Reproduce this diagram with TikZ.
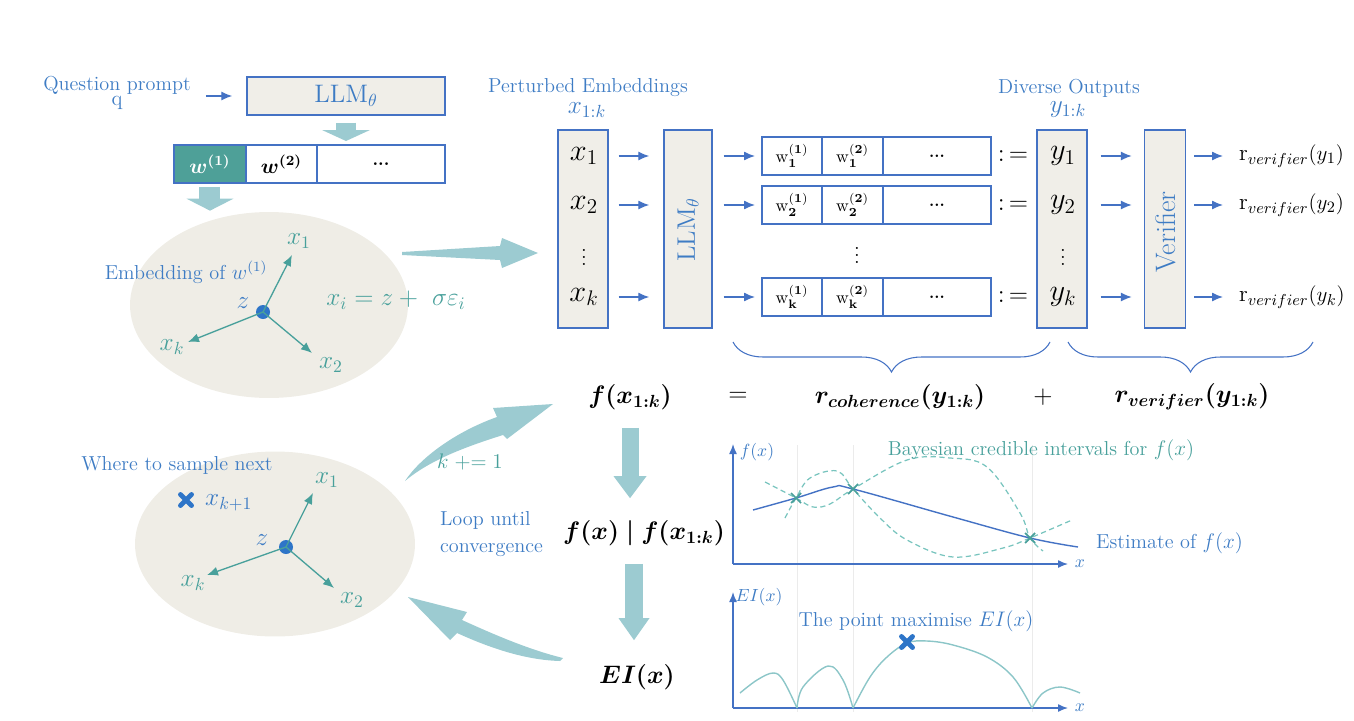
\documentclass[tikz,border=0pt]{standalone}
\usepackage{amsmath}
\usepackage{bm}
\usetikzlibrary{arrows.meta,calc,shapes.geometric,decorations.pathreplacing}

\definecolor{txtblue}{RGB}{62,124,196}
\definecolor{boxblue}{RGB}{68,114,196}
\definecolor{tealtxt}{RGB}{72,160,155}
\definecolor{wteal}{RGB}{78,160,152}
\definecolor{beige}{RGB}{240,238,232}
\definecolor{ellfill}{RGB}{239,237,230}
\definecolor{arrowteal}{RGB}{156,203,209}
\definecolor{dotblue}{RGB}{46,117,200}
\definecolor{dashteal}{RGB}{120,196,190}
\definecolor{eiteal}{RGB}{140,198,200}
\newcommand\lblsize{\fontsize{11.5}{15}\selectfont}

\tikzset{
	bluelbl/.style={text=txtblue, font=\lblsize, inner sep=1pt},
	teallbl/.style={text=tealtxt, font=\Large, inner sep=1pt},
	panel/.style={draw=boxblue, fill=beige, line width=0.8pt, inner sep=0pt},
	cell/.style={draw=boxblue, fill=white, line width=0.8pt, inner sep=0pt, outer sep=0pt, minimum height=0.76cm, anchor=west},
	flowarrow/.style={draw=boxblue, line width=0.75pt, -{Latex[length=2.2mm,width=1.8mm]}},
	spoke/.style={draw=tealtxt, line width=0.75pt, -{Latex[length=2.2mm,width=1.8mm]}},
	plotaxis/.style={draw=boxblue, line width=0.8pt, -{Latex[length=2mm,width=1.6mm]}},
	blockdown/.style n args={3}{draw=arrowteal, line width=#1, -{Triangle[width=#2,length=#3,line width=0pt]}},
	sumbrace/.style={draw=boxblue, line width=0.6pt, decorate, decoration={brace,mirror,amplitude=0.6cm}},
	estline/.style={draw=boxblue, line width=0.8pt},
	bandline/.style={draw=dashteal, line width=0.7pt, dash pattern=on 3pt off 2pt},
	eiline/.style={draw=eiteal, line width=0.8pt},
	bigcross/.pic={\draw[draw=dotblue, line width=2.8pt, line cap=round] (-5.5,-5.5) -- (5.5,5.5) (-5.5,5.5) -- (5.5,-5.5);},
	smallcross/.pic={\draw[draw=tealtxt, line width=1pt] (-5,-5) -- (5,5) (-5,5) -- (5,-5);}
}

\begin{document}
\begin{tikzpicture}[x=0.02cm, y=-0.02cm]
	\useasboundingbox (0,0) rectangle (1354,720);
	%%%%% START %%%%%
	
	%%%%% prompt and tokens %%%%%
	\node[bluelbl] (qprompt) at (117,85) {Question prompt};
	\node[bluelbl, font=\large] (qsym) at (117,103) {q};
	\node[panel, minimum width=3.96cm, minimum height=0.76cm, text=txtblue, font=\Large] (llmtop) at (346,96) {LLM$_\theta$};
	\draw[flowarrow] ([xshift=0.26cm]qprompt.east |- llmtop) -- ([xshift=-0.28cm]llmtop.west);
	
	\node[cell, fill=wteal, minimum width=1.44cm, text=white, font=\large] (wone) at (174,164) {$\bm{w^{(1)}}$};
	\node[cell, minimum width=1.42cm, font=\large] (wtwo) at (wone.east) {$\bm{w^{(2)}}$};
	\node[cell, minimum width=2.56cm] (wdots) at (wtwo.east) {\bfseries ...};
	\draw[blockdown={0.4cm}{0.96cm}{0.22cm}, shorten <=0.14cm, shorten >=0.08cm] (llmtop.south) -- (llmtop.south |- wdots.north);
	
	%%%%% embedding space %%%%%
	\node[ellipse, fill=ellfill, inner sep=0pt, minimum width=5.56cm, minimum height=3.72cm] (embspace) at (269,305) {};
	\draw[blockdown={0.42cm}{0.94cm}{0.24cm}, shorten <=0.08cm, shorten >=0.02cm] (wone.south) -- (wone.south |- embspace.north);
	
	\node[bluelbl] (embtxt) at (186,272) {Embedding of $w^{(1)}$};
	\node[circle, fill=dotblue, inner sep=0pt, minimum size=0.28cm] (zdot) at (263,312) {};
	\node[text=txtblue, font=\Large] (zlbl) at (243,303) {$z$};
	\coordinate (sone) at (292,255);
	\coordinate (stwo) at (312,353);
	\coordinate (sk) at (188,342);
	\draw[spoke] (zdot.center) -- (sone);
	\draw[spoke] (zdot.center) -- (stwo);
	\draw[spoke] (zdot.center) -- (sk);
	\node[teallbl] (sonelbl) at (299,241) {$x_1$};
	\node[teallbl] (stwolbl) at (331,365) {$x_2$};
	\node[teallbl] (sklbl) at (172,347) {$x_k$};
	\node[teallbl] (eqn) at (396,300) {$x_i = z +\ \sigma\varepsilon_i$};
	
	% tapered arrow into the perturbed embeddings
	\fill[arrowteal] (402,252) -- (500,246) -- (502,238) -- (538,253) -- (502,268) -- (500,260) -- (402,255) -- cycle;
	
	%%%%% perturbed embeddings -> outputs %%%%%
	\node[bluelbl] (pertitle) at (588,88) {Perturbed Embeddings};
	\node[text=txtblue, font=\Large] (xrange) at (587,110) {$x_{1:k}$};
	\node[panel, minimum width=1.0cm, minimum height=3.96cm] (xcol) at (583,229) {};
	\node[panel, minimum width=0.96cm, minimum height=3.96cm] (llmside) at (688,229) {};
	\node[rotate=90, text=txtblue, font=\Large] (llmsidetxt) at (688,230) {LLM$_\theta$};
	
	\node[bluelbl] (divtitle) at (1069,88) {Diverse Outputs};
	\node[text=txtblue, font=\Large] (yrange) at (1068,110) {$y_{1:k}$};
	\node[panel, minimum width=1.0cm, minimum height=3.96cm] (ycol) at (1062,229) {};
	\node[panel, minimum width=0.82cm, minimum height=3.96cm] (verif) at (1165,229) {};
	\node[rotate=90, text=txtblue, font=\fontsize{16}{18}\selectfont] (veriftxt) at (1166,232) {Verifier};
	
	\foreach \yy/\i in {156/1,205/2,297/k} {
		\node[font=\LARGE, inner sep=1pt] (xe\i) at (584,\yy) {$x_\i$};
		\node[font=\LARGE, inner sep=1pt] (ye\i) at (1063,\yy) {$y_\i$};
		\node[cell, minimum width=1.2cm] (oa\i) at (762,\yy) {$\mathrm{w}^{(\mathbf{1})}_{\mathbf{\i}}$};
		\node[cell, minimum width=1.22cm] (ob\i) at (oa\i.east) {$\mathrm{w}^{(\mathbf{2})}_{\mathbf{\i}}$};
		\node[cell, minimum width=2.16cm, font=\small] (oc\i) at (ob\i.east) {\bfseries ...};
		\node[font=\Large] (def\i) at (1013,\yy) {$:\,=$};
		\node[anchor=west, font=\fontsize{13}{15}\selectfont] (rv\i) at (1233,\yy) {r$_{verifier}(y_\i)$};
		\draw[flowarrow] ([xshift=0.2cm]xcol.east |- 0,\yy) -- ([xshift=-0.28cm]llmside.west |- 0,\yy);
		\draw[flowarrow] ([xshift=0.22cm]llmside.east |- 0,\yy) -- ([xshift=-0.14cm]oa\i.west);
		\draw[flowarrow] ([xshift=0.26cm]ycol.east |- 0,\yy) -- ([xshift=-0.24cm]verif.west |- 0,\yy);
		\draw[flowarrow] ([xshift=0.16cm]verif.east |- 0,\yy) -- ([xshift=-0.2cm]rv\i.west);
	}
	\node[font=\large, inner sep=0pt] (xvd) at (584,252) {$\vdots$};
	\node[font=\large, inner sep=0pt] (yvd) at (1063,252) {$\vdots$};
	\node[font=\large, inner sep=0pt] (ovd) at (857,250) {$\vdots$};
	
	%%%%% objective %%%%%
	\draw[sumbrace] (733,342) -- (1050,342);
	\draw[sumbrace] (1068,342) -- (1313,342);
	\node[font=\Large] (fx) at (630,397) {$\bm{f(x_{1:k})}$};
	\node[font=\Large] (eqsign) at (738,397) {$=$};
	\node[font=\Large] (rcoh) at (900,397) {$\bm{r_{coherence}(y_{1:k})}$};
	\node[font=\Large] (plussign) at (1043,397) {$+$};
	\node[font=\Large] (rver) at (1192,397) {$\bm{r_{verifier}(y_{1:k})}$};
	
	%%%%% bayesian optimisation loop %%%%%
	\node[font=\Large] (fxcond) at (644,533) {$\bm{f(x)\mid f(x_{1:k})}$};
	\node[font=\Large] (eix) at (637,677) {$\bm{EI(x)}$};
	\draw[blockdown={0.34cm}{0.66cm}{0.44cm}, shorten <=0.24cm, shorten >=0.32cm] (fx.south) -- (fx.south |- fxcond.north);
	\draw[blockdown={0.36cm}{0.62cm}{0.44cm}, shorten <=0.24cm, shorten >=0.36cm] ([xshift=-0.2cm]fxcond.south) -- ([xshift=-0.2cm]fxcond.south |- eix.north);
	
	\node[ellipse, fill=ellfill, inner sep=0pt, minimum width=5.6cm, minimum height=3.7cm] (nextspace) at (275,544) {};
	\node[bluelbl] (nexttxt) at (177,465) {Where to sample next};
	\pic at (186,500) {bigcross};
	\node[text=txtblue, font=\Large, anchor=west] (xnext) at (199,503) {$x_{k+1}$};
	\node[circle, fill=dotblue, inner sep=0pt, minimum size=0.28cm] (zdotb) at (286,547) {};
	\node[text=txtblue, font=\Large] (zlblb) at (262,540) {$z$};
	\coordinate (tone) at (313,493);
	\coordinate (ttwo) at (334,588);
	\coordinate (tk) at (207,575);
	\draw[spoke] (zdotb.center) -- (tone);
	\draw[spoke] (zdotb.center) -- (ttwo);
	\draw[spoke] (zdotb.center) -- (tk);
	\node[teallbl] (tonelbl) at (327,480) {$x_1$};
	\node[teallbl] (ttwolbl) at (352,600) {$x_2$};
	\node[teallbl] (tklbl) at (193,583) {$x_k$};
	
	% curved arrows of the loop
	\fill[arrowteal] (405,481) .. controls (420,458) and (455,432) .. (497,417) -- (493,408) -- (553,404) -- (507,439) -- (503,435) .. controls (465,447) and (430,460) .. (405,481) -- cycle;
	\fill[arrowteal] (563,658) .. controls (530,650) and (495,635) .. (462,620) -- (467,612) -- (408,597) -- (450,640) -- (457,633) .. controls (490,648) and (525,660) .. (560,661) -- cycle;
	\node[text=tealtxt, font=\large] (kinc) at (470,462) {$k \mathrel{+}= 1$};
	\node[bluelbl, align=left, anchor=west] (looptxt) at (438,534) {Loop until\\convergence};
	
	%%%%% plots %%%%%
	\foreach \gx in {797,853,1032}
		\draw[black!8, line width=0.5pt] (\gx,445) -- (\gx,712);
	
	\coordinate (gone) at (733,564);
	\draw[plotaxis] (gone) -- (733,444);
	\draw[plotaxis] (gone) -- (1068,564);
	\node[text=txtblue] (fxlbl) at (757,452) {$f(x)$};
	\node[text=txtblue] (xlblone) at (1080,564) {$x$};
	\draw[bandline] plot[smooth, tension=0.6] coordinates {(765,482) (796,498) (813,507) (830,504) (853,489) (907,460) (950,458) (987,467) (1020,513) (1030,538) (1043,551)};
	\draw[bandline] plot[smooth, tension=0.6] coordinates {(785,518) (796,498) (810,478) (837,471) (853,489) (880,518) (907,540) (953,557) (1003,548) (1030,538) (1072,520)};
	\draw[estline] plot[smooth, tension=0.6] coordinates {(753,510) (796,498) (833,487) (853,489) (953,517) (1030,538) (1078,547)};
	\pic at (796,498) {smallcross};
	\pic at (853,489) {smallcross};
	\pic at (1030,538) {smallcross};
	\node[text=tealtxt, font=\lblsize] (bandtxt) at (1041,450) {Bayesian credible intervals for $f(x)$};
	\node[text=txtblue, font=\lblsize, anchor=west] (esttxt) at (1090,543) {Estimate of $f(x)$};
	
	\coordinate (gtwo) at (733,708);
	\draw[plotaxis] (gtwo) -- (733,592);
	\draw[plotaxis] (gtwo) -- (1068,708);
	\node[text=txtblue] (eilbl) at (759,597) {$EI(x)$};
	\node[text=txtblue] (xlbltwo) at (1080,708) {$x$};
	\draw[eiline] plot[smooth, tension=0.6] coordinates {(740,693) (757,680) (773,673) (783,680) (797,708)};
	\draw[eiline] plot[smooth, tension=0.6] coordinates {(797,708) (803,687) (828,666) (843,680) (853,708)};
	\draw[eiline] plot[smooth, tension=0.6] coordinates {(853,708) (870,677) (887,657) (907,643) (927,641) (953,645) (987,657) (1013,677) (1032,708)};
	\draw[eiline] plot[smooth, tension=0.6] coordinates {(1032,708) (1043,693) (1060,687) (1080,693)};
	\pic at (907,642) {bigcross};
	\node[text=txtblue, font=\lblsize] (maxtxt) at (916,621) {The point maximise $EI(x)$};
	%%%%% END %%%%%
\end{tikzpicture}
\end{document}
